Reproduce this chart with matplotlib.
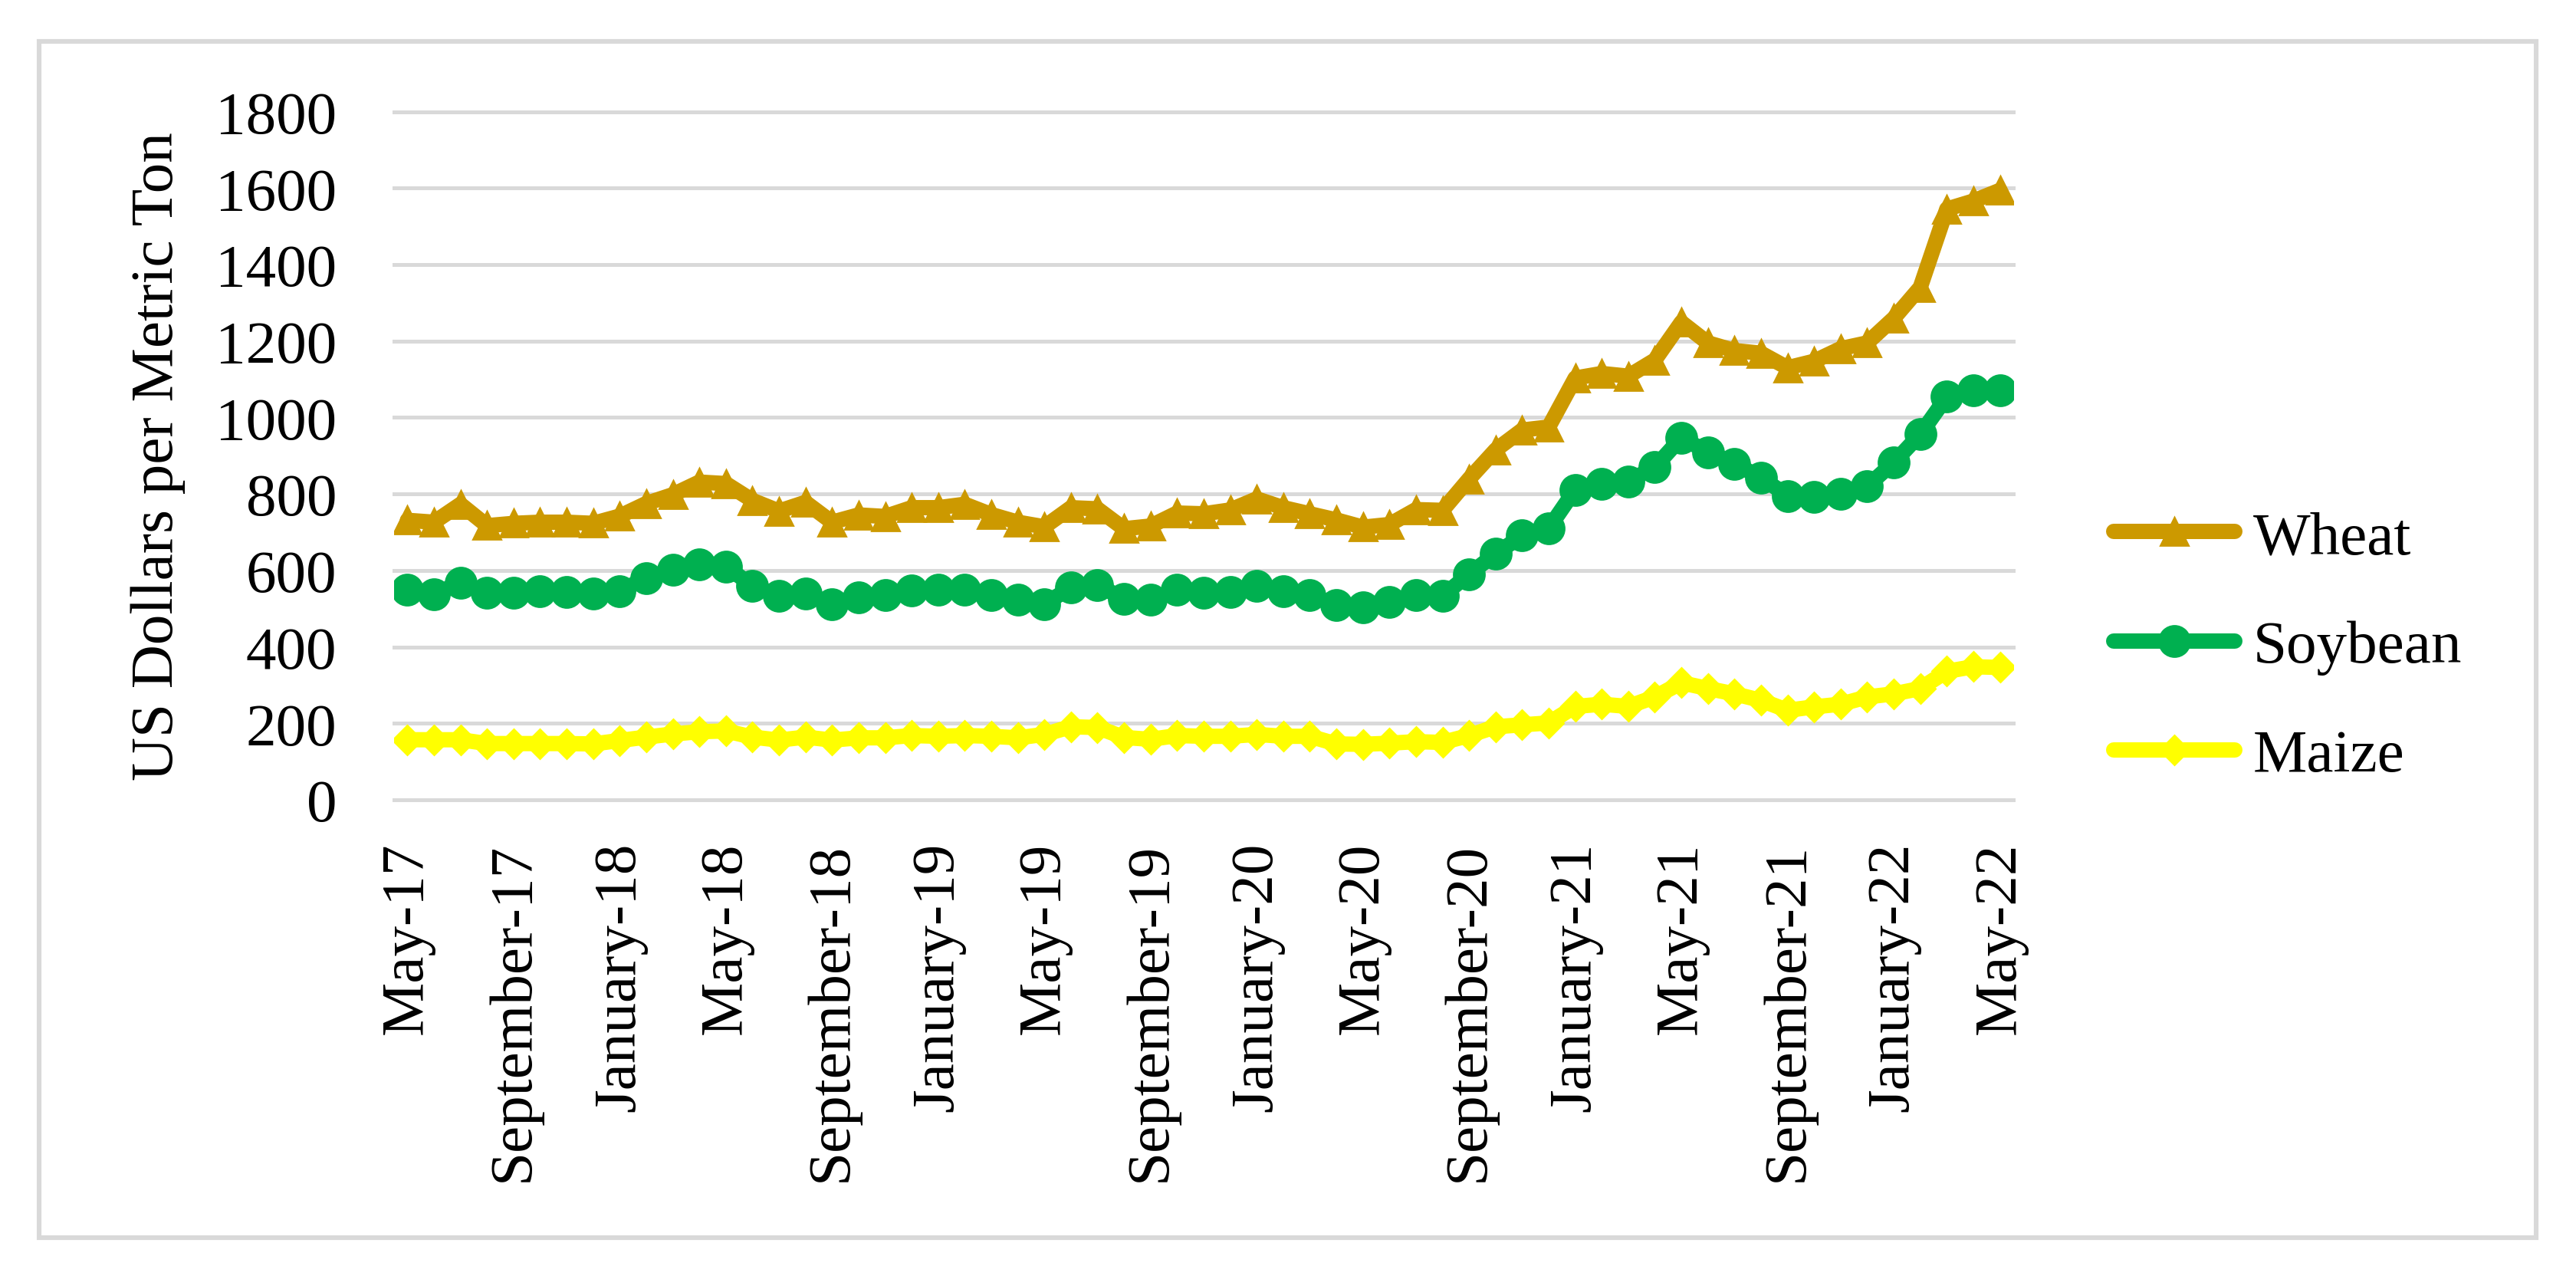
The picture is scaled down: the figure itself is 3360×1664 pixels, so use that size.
"""Monthly grain prices (wheat, soybean, maize), May 2017 - May 2022."""

import matplotlib

matplotlib.use("Agg")
import matplotlib.pyplot as plt
from matplotlib.patches import Rectangle

plt.rcParams["font.family"] = ["Liberation Serif", "DejaVu Serif"]

# Monthly series, May-17 .. May-22 (61 months), USD per metric ton.
wheat = [
    731, 726, 773, 717, 723, 726, 726, 723, 742, 775, 798, 831, 827, 783, 755, 778,
    726, 745, 741, 764, 764, 773, 746, 726, 714, 764, 761, 709, 716, 750, 748, 758,
    787, 764, 748, 732, 713, 720, 759, 757, 839, 915, 967, 975, 1103, 1115, 1108,
    1150, 1249, 1195, 1175, 1168, 1130, 1147, 1180, 1195, 1259, 1340, 1545, 1566, 1594,
]
soybean = [
    550, 537, 568, 542, 542, 546, 544, 539, 546, 580, 601, 616, 610, 560, 534, 539,
    512, 530, 536, 548, 550, 550, 535, 523, 512, 555, 562, 525, 524, 550, 542, 544,
    560, 545, 535, 510, 503, 518, 535, 533, 590, 643, 691, 710, 811, 826, 833,
    870, 947, 909, 879, 843, 795, 793, 801, 820, 882, 956, 1054, 1070, 1070,
]
maize = [
    157, 157, 157, 147, 147, 147, 147, 146, 155, 164, 172, 178, 180, 164, 156, 164,
    156, 162, 162, 168, 166, 168, 166, 162, 171, 191, 189, 163, 158, 168, 166, 166,
    171, 166, 166, 146, 145, 148, 152, 150, 168, 191, 196, 201, 244, 250, 244,
    269, 306, 291, 277, 260, 234, 243, 250, 269, 277, 291, 336, 348, 346,
]
tick_labels = [
    "May-17", "September-17", "January-18", "May-18", "September-18", "January-19",
    "May-19", "September-19", "January-20", "May-20", "September-20", "January-21",
    "May-21", "September-21", "January-22", "May-22",
]
y_ticks = [0, 200, 400, 600, 800, 1000, 1200, 1400, 1600, 1800]

FS = 28.5
GRID = "#d9d9d9"

fig = plt.figure(figsize=(16.8, 8.325), dpi=200)
ax = fig.add_axes([0.1530, 0.3730, 0.6285, 0.5390])

x = list(range(len(wheat)))
style = dict(linewidth=7.2, solid_capstyle="round", solid_joinstyle="round",
             markeredgewidth=1.0, zorder=3)
ax.plot(x, wheat, color="#cc9900", marker="^", markersize=13.3, label="Wheat", **style)
ax.plot(x, soybean, color="#00b050", marker="o", markersize=14.4, label="Soybean", **style)
ax.plot(x, maize, color="#ffff00", marker="D", markersize=9.6, label="Maize", **style)

ax.set_xlim(-0.5, len(wheat) - 0.5)
ax.set_ylim(0, 1800)
ax.set_yticks(y_ticks)
ax.set_xticks(range(0, len(wheat), 4))
ax.set_xticklabels(tick_labels, rotation=90)
ax.tick_params(axis="both", length=0, labelsize=FS)
ax.tick_params(axis="x", pad=19.8)
ax.tick_params(axis="y", pad=27)
ax.grid(axis="y", color=GRID, linewidth=1.8)
for gl in ax.get_ygridlines():
    gl.set_clip_on(False)
ax.set_axisbelow(True)
for s in ax.spines.values():
    s.set_visible(False)

fig.text(206 / 3360, 1 - 595 / 1665, "US Dollars per Metric Ton", rotation=90,
         ha="center", va="center", fontsize=FS)

ax.legend(loc="center left", bbox_to_anchor=(2757 / 3360, 1 - 845 / 1665),
          bbox_transform=fig.transFigure, frameon=False, fontsize=FS,
          handlelength=2.0, handletextpad=0.3, labelspacing=0.88,
          borderpad=0, borderaxespad=0, numpoints=1)

fig.add_artist(Rectangle((51 / 3360, 1 - 1615 / 1665), 3257 / 3360, 1560 / 1665,
                         transform=fig.transFigure, fill=False,
                         edgecolor=GRID, linewidth=2.2))

fig.savefig("out.png", dpi=200, facecolor="white")
